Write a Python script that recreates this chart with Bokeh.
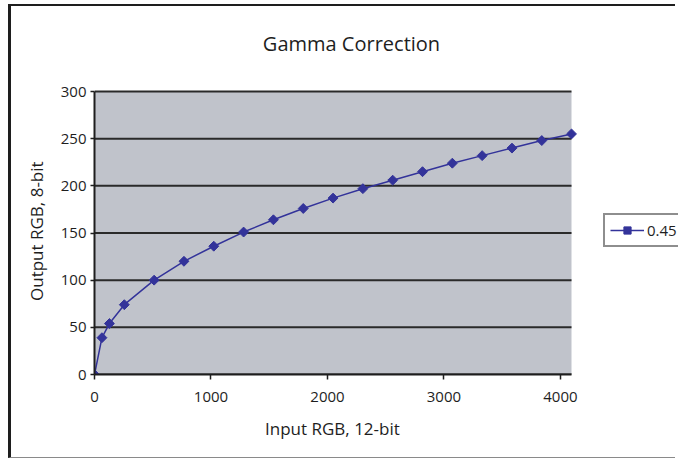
import math
from bokeh.plotting import figure
from bokeh.models import (Range1d, FixedTicker, Legend, LegendItem,
                          BoxAnnotation, Label, Title)
from bokeh.embed import file_html
from bokeh.resources import INLINE

# Data
input_rgb = [0, 64, 128, 256, 512, 768, 1024, 1280, 1536, 1792, 2048,
             2304, 2560, 2816, 3072, 3328, 3584, 3840, 4095]
output_rgb = [0, 39, 54, 74, 100, 120, 136, 151, 164, 176, 187,
              197, 206, 215, 224, 232, 240, 248, 255]
series_name = "0.45"
title_text = "Gamma Correction"
x_label = "Input RGB, 12-bit"
y_label = "Output RGB, 8-bit"
y_ticks = [0, 50, 100, 150, 200, 250, 300]
x_ticks = [0, 1000, 2000, 3000, 4000]

FONT = "Open Sans"
INK = "#1e1e1e"
SERIES = "#33339a"
PLOT_BG = "#c0c3cb"
GRID = "#2a2a2a"

# ---- layout (pixels inside the canvas) ----
W, H = 667, 454               # canvas size
PA_L, PA_R = 83, 560          # grey plot area, left / right
PA_T, PA_B = 85, 368          # grey plot area, top / bottom
FRAME_W = W - PA_L            # frame spans to the right edge of the canvas
FRAME_H = PA_B                # frame spans to the top edge of the canvas

x_lo, x_hi = 0, max(input_rgb)
y_lo, y_hi = y_ticks[0], y_ticks[-1]
x_per_px = (x_hi - x_lo) / (PA_R - PA_L)
y_per_px = (y_hi - y_lo) / (PA_B - PA_T)
x_end = x_lo + FRAME_W * x_per_px
y_end = y_lo + FRAME_H * y_per_px

p = figure(
    width=W, height=H,
    output_backend="svg", toolbar_location=None,
    x_range=Range1d(x_lo, x_end), y_range=Range1d(y_lo, y_end),
    min_border_left=PA_L, min_border_right=0,
    min_border_top=0, min_border_bottom=H - PA_B,
    background_fill_color="white", border_fill_color="white",
    outline_line_color=None,
    styles={"margin-top": "4px", "margin-left": "8px",
            "border-top": "2px solid #1e1e1e",
            "border-left": "3px solid #1e1e1e",
            "border-bottom": "1px solid #8a8a8a"},
)

# grey plot area
p.add_layout(BoxAnnotation(left=x_lo, right=x_hi, bottom=y_lo, top=y_hi,
                           fill_color=PLOT_BG, fill_alpha=1,
                           line_color=None, level="image"))

for ax in (p.xaxis, p.yaxis):
    ax.axis_line_color = INK
    ax.axis_line_width = 2
    ax.major_tick_line_color = INK
    ax.major_tick_line_width = 1.5
    ax.major_tick_in = 0
    ax.minor_tick_line_color = None
    ax.major_label_text_font = FONT
    ax.major_label_text_font_size = "15px"
    ax.major_label_text_color = INK

p.xaxis.ticker = FixedTicker(ticks=x_ticks)
p.xaxis.bounds = (x_lo, x_hi)
p.xaxis.major_tick_out = 5
p.xaxis.major_label_standoff = 12

p.yaxis.ticker = FixedTicker(ticks=y_ticks)
p.yaxis.bounds = (y_lo, y_hi)
p.yaxis.major_tick_out = 4
p.yaxis.major_label_standoff = 4

# axis titles, centred on the grey plot area (not on the whole frame)
XLAB_W, YLAB_W = 140, 138
p.add_layout(Title(text=x_label, align="left",
                   offset=(PA_R - PA_L - XLAB_W) / 2 + 2,
                   vertical_align="top", standoff=24,
                   text_font=FONT, text_font_size="17px",
                   text_font_style="normal", text_color=INK), "below")
p.add_layout(Title(text=y_label, align="left",
                   offset=(PA_B - PA_T - YLAB_W) / 2 + 1,
                   vertical_align="bottom", standoff=20,
                   text_font=FONT, text_font_size="17px",
                   text_font_style="normal", text_color=INK), "left")

# horizontal grid lines across the grey plot area only
p.grid.visible = False
p.segment(x0=[x_lo] * len(y_ticks), y0=y_ticks,
          x1=[x_hi] * len(y_ticks), y1=y_ticks,
          line_color=GRID, line_width=2)

line_r = p.line(input_rgb, output_rgb, line_color=SERIES, line_width=1.5)
pts_r = p.scatter(input_rgb, output_rgb, marker="square", angle=math.pi / 4,
                  size=7, fill_color=SERIES, line_color=SERIES)

# chart title, centred over the whole chart area
TITLE_CX, TITLE_CY = 340, 36.5   # canvas pixels
p.add_layout(Label(
    x=x_lo + (TITLE_CX - PA_L) * x_per_px,
    y=y_lo + (PA_B - TITLE_CY) * y_per_px,
    text=title_text, text_align="center", text_baseline="middle",
    text_font=FONT, text_font_size="20px", text_color=INK))

# legend to the right of the plot area
LEG_L, LEG_B = 592, 241        # canvas pixels (left, bottom of the box)
legend = Legend(
    items=[LegendItem(label=series_name, renderers=[line_r, pts_r])],
    location=(LEG_L - PA_L, PA_B - LEG_B), margin=0, padding=5, spacing=0,
    glyph_width=34, glyph_height=18, label_height=18, label_standoff=3,
    label_text_font=FONT, label_text_font_size="15px", label_text_color=INK,
    border_line_color=INK, border_line_width=2,
    background_fill_color="white", background_fill_alpha=1,
)
p.add_layout(legend)

open("out.html", "w").write(file_html(p, INLINE))
